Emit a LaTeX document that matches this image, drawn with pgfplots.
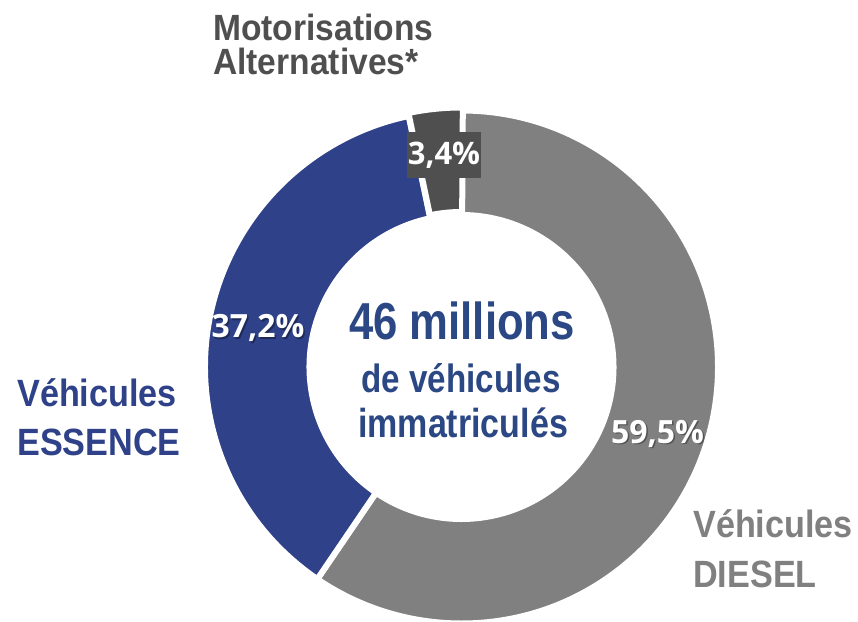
\documentclass[border=0pt]{standalone}
\usepackage{pgfplots}
\pgfplotsset{compat=1.18}
\usepackage{pgfplotstable}
\usepackage{fontspec}
\setmainfont{Liberation Sans}
\newfontfamily\lab[FakeStretch=0.90]{Liberation Sans}
\newfontfamily\labn[FakeStretch=0.92]{Liberation Sans}
\newfontfamily\narrow[FakeStretch=0.84]{Liberation Sans}
\newfontfamily\pct{Open Sans}
\definecolor{cDiesel}{HTML}{808080}
\definecolor{cEssence}{HTML}{2E4189}
\definecolor{cAlt}{HTML}{4F4F4F}
\definecolor{cCenter}{HTML}{2B4884}

\pgfplotstableread{
label value
Diesel 59.5
Essence 37.2
Alternatives 3.4
}\datatable
\pgfplotstablegetelem{0}{value}\of\datatable \let\vA\pgfplotsretval
\pgfplotstablegetelem{1}{value}\of\datatable \let\vB\pgfplotsretval
\pgfplotstablegetelem{2}{value}\of\datatable \let\vC\pgfplotsretval
\pgfmathsetmacro\aZ{90}
\pgfmathsetmacro\aA{\aZ-3.6*\vA}
\pgfmathsetmacro\aB{\aA-3.6*\vB}
\pgfmathsetmacro\aC{\aB-3.6*\vC}
\def\Ro{256.5}
\def\Ri{152}
\def\cx{461.5}
\def\cy{254}
\newcommand\slice[5]{%
  \fill[#3, draw=white, line width=6pt]
   (axis cs:{#4+\Ro*cos(#1)},{#5+\Ro*sin(#1)}) arc[start angle=#1, end angle=#2, radius=\Ro pt]
   -- (axis cs:{#4+\Ri*cos(#2)},{#5+\Ri*sin(#2)}) arc[start angle=#2, end angle=#1, radius=\Ri pt] -- cycle;}

\begin{document}
\begin{tikzpicture}
\begin{axis}[
  x=1pt, y=1pt, xmin=0, xmax=858, ymin=0, ymax=621,
  hide axis, clip=false, anchor=origin, at={(0,0)}]
\addplot[draw=none] coordinates {(0,0) (858,621)};
\slice{\aZ}{\aA}{cDiesel}{\cx}{\cy}
\slice{\aA}{\aB}{cEssence}{\cx}{\cy}
\slice{\aB}{\aC}{cAlt}{\cx-0.3}{\cy+3}
% percentage labels
\node[fill=cAlt, inner xsep=1pt, minimum height=46pt, text=white, font=\pct\bfseries\fontsize{31}{33}\selectfont] at (axis cs:444,466) {3,4\%};
\node[anchor=base, text=black, opacity=0.35, font=\pct\bfseries\fontsize{32}{34}\selectfont] at (axis cs:259.5,281.5) {37,2\%};
\node[anchor=base, text=white, font=\pct\bfseries\fontsize{32}{34}\selectfont] at (axis cs:258,283) {37,2\%};
\node[anchor=base, text=black, opacity=0.35, font=\pct\bfseries\fontsize{32}{34}\selectfont] at (axis cs:659,176.5) {59,5\%};
\node[anchor=base, text=white, font=\pct\bfseries\fontsize{32}{34}\selectfont] at (axis cs:657.5,178) {59,5\%};
% centre text
\node[anchor=base, inner sep=0pt, text=cCenter, font=\narrow\bfseries\fontsize{52}{56}\selectfont] at (axis cs:462,281) {46 millions};
\node[anchor=base, inner sep=0pt, text=cCenter, font=\narrow\bfseries\fontsize{39.5}{42}\selectfont] at (axis cs:461,228) {de véhicules};
\node[anchor=base, inner sep=0pt, text=cCenter, font=\narrow\bfseries\fontsize{40.5}{42}\selectfont] at (axis cs:463,183) {immatriculés};
% category labels
\node[anchor=base west, inner sep=0pt, text=cAlt, font=\labn\bfseries\fontsize{36.5}{40}\selectfont] at (axis cs:213,580) {Motorisations};
\node[anchor=base west, inner sep=0pt, text=cAlt, font=\labn\bfseries\fontsize{36.5}{40}\selectfont] at (axis cs:213,546) {Alternatives*};
\node[anchor=base west, inner sep=0pt, text=cEssence, font=\lab\bfseries\fontsize{38}{40}\selectfont] at (axis cs:17,214) {Véhicules};
\node[anchor=base west, inner sep=0pt, text=cEssence, font=\lab\bfseries\fontsize{38}{40}\selectfont] at (axis cs:17,166) {ESSENCE};
\node[anchor=base west, inner sep=0pt, text=cDiesel, font=\lab\bfseries\fontsize{38}{40}\selectfont] at (axis cs:693,84) {Véhicules};
\node[anchor=base west, inner sep=0pt, text=cDiesel, font=\lab\bfseries\fontsize{38}{40}\selectfont] at (axis cs:693,34) {DIESEL};
\end{axis}
\pgfresetboundingbox
\path (0,0) rectangle (858pt,621pt);
\end{tikzpicture}
\end{document}
